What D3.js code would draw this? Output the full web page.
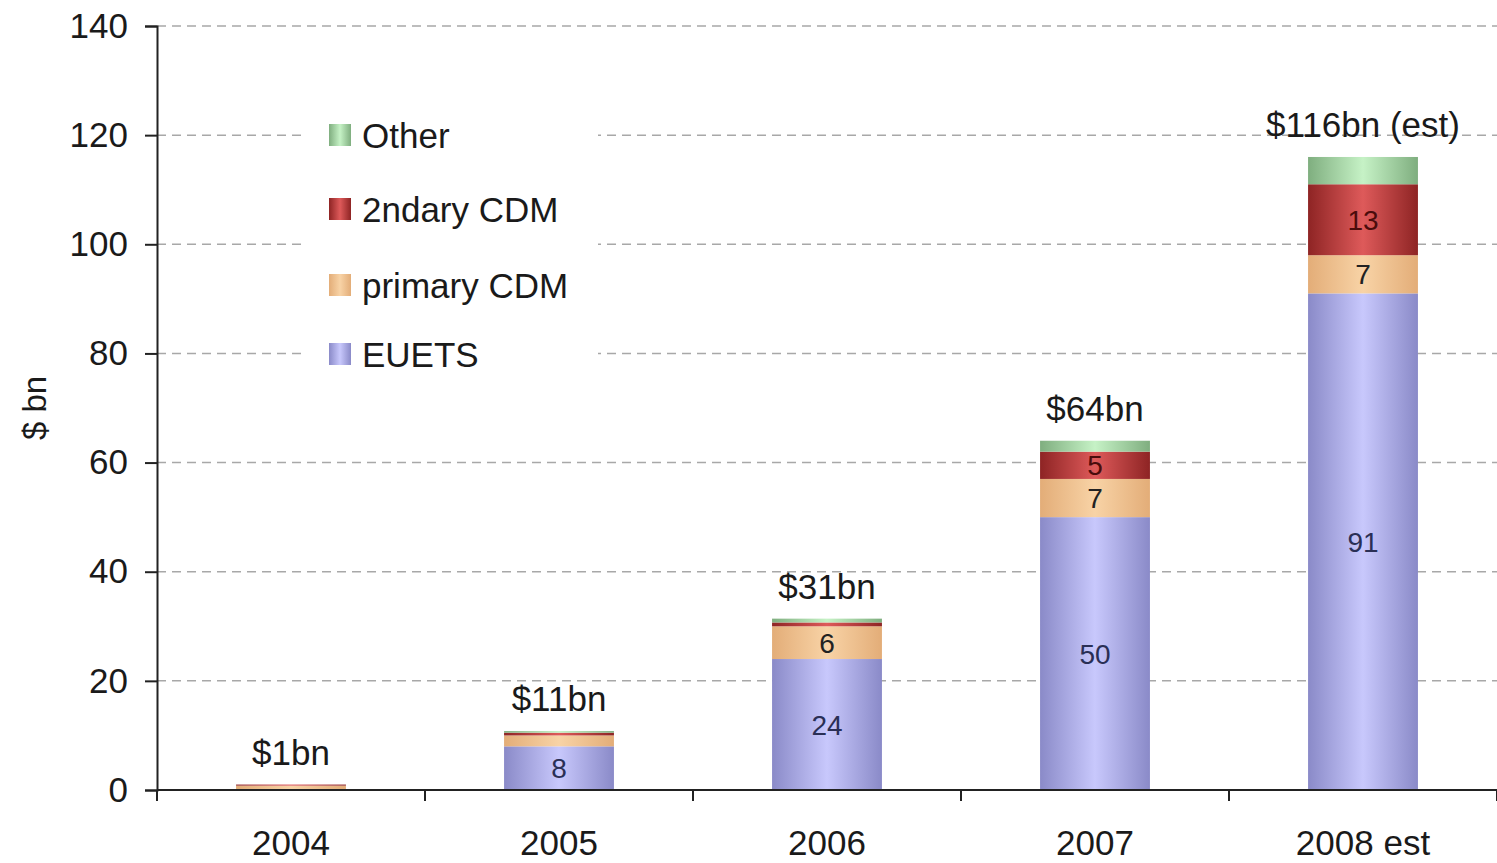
<!DOCTYPE html>
<html>
<head>
<meta charset="utf-8">
<script src="https://cdn.jsdelivr.net/npm/d3@7"></script>
<style>
  html, body { margin: 0; padding: 0; background: #fff; }
  svg { display: block; font-family: "Liberation Sans", Arial, sans-serif; }
</style>
</head>
<body>
<svg id="chart" width="1497" height="863"></svg>
<script>
// Carbon market value by segment, $ bn
const years = ["2004", "2005", "2006", "2007", "2008 est"];
const seriesNames = ["EUETS", "primary CDM", "2ndary CDM", "Other"];
const euets        = [0,   8,   24,  50, 91];
const primaryCdm   = [0.8, 2,   6,   7,  7];
const secondaryCdm = [0.2, 0.5, 0.7, 5,  13];
const other        = [0,   0.3, 0.7, 2,  5];
const totalLabels = ["$1bn", "$11bn", "$31bn", "$64bn", "$116bn (est)"];
const yTicks = [0, 20, 40, 60, 80, 100, 120, 140];
// only these series get a value printed inside the segment
const labelledSeries = ["EUETS", "primary CDM", "2ndary CDM"];
const labelMin = 3;

const seriesValues = [euets, primaryCdm, secondaryCdm, other];
const palette = {
  "EUETS":       { edge: "#8a8ac8", mid: "#c8c8fc", text: "#2a2f55" },
  "primary CDM": { edge: "#e3ad78", mid: "#f8d3a6", text: "#222222" },
  "2ndary CDM":  { edge: "#8e2424", mid: "#de5a5a", text: "#4a0c0c" },
  "Other":       { edge: "#7fae7f", mid: "#c6f2c6", text: "#222222" }
};

const rows = years.map((y, i) => {
  const r = { year: y };
  seriesNames.forEach((s, k) => r[s] = seriesValues[k][i]);
  return r;
});

const svg = d3.select("#chart");
const margin = { left: 157, right: 0, top: 26, bottom: 73 };
const W = 1497, H = 863;
const FONT = 35;

const x = d3.scaleBand().domain(years)
  .range([margin.left, W - margin.right]).paddingInner(0.59).paddingOuter(0.295);
const y = d3.scaleLinear().domain([0, 140]).range([H - margin.bottom, margin.top]);

// gradients giving the bars a rounded look
const defs = svg.append("defs");
seriesNames.forEach((s, k) => {
  const g = defs.append("linearGradient").attr("id", "grad" + k)
    .attr("x1", 0).attr("x2", 1).attr("y1", 0).attr("y2", 0);
  g.append("stop").attr("offset", "0%").attr("stop-color", palette[s].edge);
  g.append("stop").attr("offset", "50%").attr("stop-color", palette[s].mid);
  g.append("stop").attr("offset", "100%").attr("stop-color", palette[s].edge);
});

// dashed gridlines
svg.append("g").selectAll("line").data(yTicks.filter(t => t > 0)).join("line")
  .attr("x1", margin.left).attr("x2", W)
  .attr("y1", d => y(d)).attr("y2", d => y(d))
  .attr("stroke", "#a8a8a8").attr("stroke-width", 1.5)
  .attr("stroke-dasharray", "9,6");

// stacked bars
const stack = d3.stack().keys(seriesNames)(rows);
const barG = svg.append("g");
stack.forEach((layer, k) => {
  barG.append("g").selectAll("rect").data(layer).join("rect")
    .attr("x", d => x(d.data.year))
    .attr("width", x.bandwidth())
    .attr("y", d => y(d[1]))
    .attr("height", d => Math.max(0, y(d[0]) - y(d[1])))
    .attr("fill", "url(#grad" + k + ")");
});

// segment value labels
stack.forEach((layer, k) => {
  const s = seriesNames[k];
  if (!labelledSeries.includes(s)) return;
  barG.append("g").selectAll("text")
    .data(layer.filter(d => (d[1] - d[0]) >= labelMin))
    .join("text")
    .attr("x", d => x(d.data.year) + x.bandwidth() / 2)
    .attr("y", d => (y(d[0]) + y(d[1])) / 2)
    .attr("dy", "0.36em")
    .attr("text-anchor", "middle")
    .attr("font-size", 28)
    .attr("fill", palette[s].text)
    .text(d => d3.format("d")(d[1] - d[0]));
});

// totals above bars
const totals = rows.map(r => seriesNames.reduce((a, s) => a + r[s], 0));
svg.append("g").selectAll("text").data(years).join("text")
  .attr("x", d => x(d) + x.bandwidth() / 2)
  .attr("y", (d, i) => y(totals[i]) - 20)
  .attr("text-anchor", "middle")
  .attr("font-size", FONT)
  .attr("fill", "#1a1a1a")
  .text((d, i) => totalLabels[i]);

// y axis
const yAxis = svg.append("g").attr("transform", `translate(${margin.left},0)`)
  .call(d3.axisLeft(y).tickValues(yTicks).tickSize(12).tickPadding(17));
yAxis.select(".domain").attr("stroke", "#222").attr("stroke-width", 2);
yAxis.selectAll(".tick line").attr("stroke", "#222").attr("stroke-width", 2);
yAxis.selectAll(".tick text").attr("font-size", FONT).attr("fill", "#1a1a1a")
  .attr("font-family", "Liberation Sans, Arial, sans-serif");

// x axis with ticks at category boundaries
const xAxisG = svg.append("g").attr("transform", `translate(0,${y(0)})`);
xAxisG.append("line").attr("x1", margin.left).attr("x2", W)
  .attr("stroke", "#222").attr("stroke-width", 2);
const step = x.step();
xAxisG.selectAll("line.tk").data(d3.range(years.length + 1)).join("line")
  .attr("class", "tk")
  .attr("x1", i => margin.left + i * step).attr("x2", i => margin.left + i * step)
  .attr("y1", 0).attr("y2", 11)
  .attr("stroke", "#222").attr("stroke-width", 2);
xAxisG.selectAll("text").data(years).join("text")
  .attr("x", d => x(d) + x.bandwidth() / 2)
  .attr("y", 65)
  .attr("text-anchor", "middle")
  .attr("font-size", FONT)
  .attr("fill", "#1a1a1a")
  .text(d => d);

// y axis title
svg.append("text")
  .attr("transform", "translate(46,408) rotate(-90)")
  .attr("text-anchor", "middle")
  .attr("font-size", 33)
  .attr("fill", "#1a1a1a")
  .text("$ bn");

// legend (top entry first)
const legend = svg.append("g");
legend.append("rect").attr("x", 306).attr("y", 105).attr("width", 292).attr("height", 275)
  .attr("fill", "#fff");
const legendOrder = ["Other", "2ndary CDM", "primary CDM", "EUETS"];
const legendY = [135, 209, 285, 354];
legendOrder.forEach((s, i) => {
  const k = seriesNames.indexOf(s);
  legend.append("rect").attr("x", 329).attr("y", legendY[i] - 11)
    .attr("width", 22).attr("height", 22).attr("fill", "url(#grad" + k + ")");
  legend.append("text").attr("x", 362).attr("y", legendY[i]).attr("dy", "0.36em")
    .attr("font-size", FONT).attr("fill", "#1a1a1a").text(s);
});
</script>
</body>
</html>
